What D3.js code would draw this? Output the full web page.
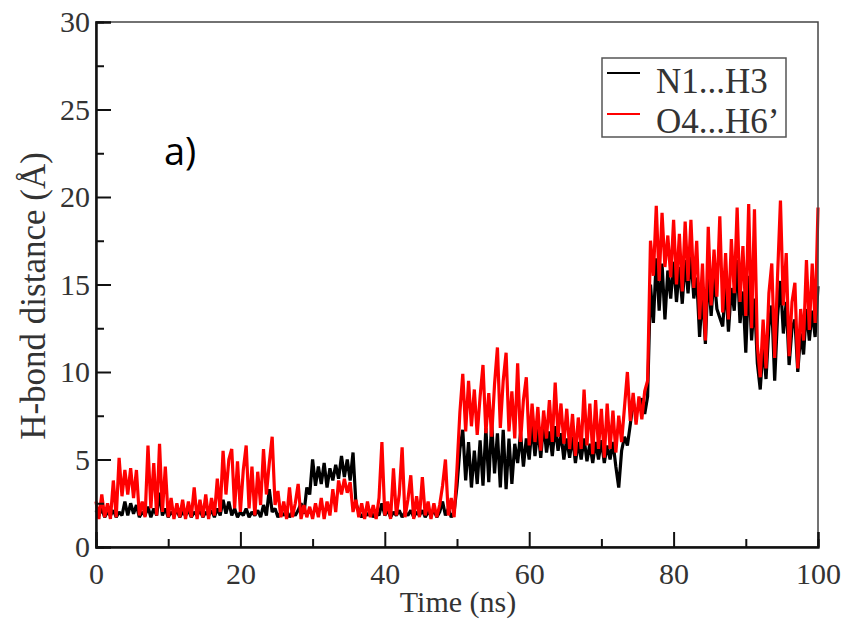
<!DOCTYPE html>
<html>
<head>
<meta charset="utf-8">
<script src="https://cdn.jsdelivr.net/npm/d3@7"></script>
<style>
  body { margin: 0; background: #fff; }
</style>
</head>
<body>
<div id="chart"></div>
<script>
// sampling step of the trajectory (ns)
const timeStep = 0.4;

// N1...H3 distance (Å), one row = 10 ns
const n1h3 = [
  2.1, 1.8, 2.2, 1.7, 2.0, 1.8, 2.1, 1.7, 2.0, 1.8, 2.6, 1.8, 2.5, 1.9, 2.4, 1.7, 2.0, 1.8, 2.3, 1.7, 2.2, 1.8, 3.1, 1.8, 2.2,
  1.7, 2.0, 1.8, 2.1, 1.7, 2.0, 1.8, 2.1, 1.7, 2.0, 1.8, 2.1, 1.7, 2.0, 1.8, 2.1, 1.7, 2.2, 1.8, 2.7, 1.9, 2.6, 1.8, 2.2, 1.7,
  2.0, 1.8, 2.2, 1.7, 2.0, 1.8, 2.1, 1.7, 2.4, 1.8, 3.3, 2.0, 2.2, 1.7, 2.0, 1.8, 2.1, 1.7, 2.0, 1.8, 2.1, 2.5, 1.9, 3.4, 3.0,
  5.0, 3.5, 4.6, 3.6, 4.8, 3.4, 4.5, 3.8, 4.7, 3.9, 5.2, 4.0, 5.0, 3.8, 5.4, 2.5, 2.0, 1.7, 2.0, 1.8, 2.1, 1.7, 2.0, 1.8, 2.5,
  1.8, 2.1, 1.7, 2.0, 1.8, 2.1, 1.7, 2.0, 1.8, 2.1, 1.7, 2.0, 1.8, 2.1, 1.7, 2.0, 1.8, 2.1, 1.7, 2.0, 2.6, 1.8, 2.2, 1.7, 2.0,
  3.5, 5.6, 6.7, 3.8, 6.0, 3.4, 5.5, 3.6, 6.1, 3.5, 6.8, 3.7, 7.1, 4.2, 6.5, 3.4, 6.7, 3.3, 6.2, 3.6, 5.9, 4.8, 6.5, 4.6, 6.2,
  5.0, 7.0, 5.2, 6.8, 5.1, 7.1, 5.4, 6.6, 5.2, 6.9, 5.5, 6.5, 5.0, 6.2, 5.1, 6.3, 4.8, 6.0, 5.0, 6.2, 4.9, 5.9, 4.8, 6.0, 5.0,
  6.1, 4.8, 5.8, 5.0, 6.0, 4.6, 3.4, 5.5, 6.3, 5.8, 7.0, 8.3, 7.6, 8.0, 8.5, 7.6, 8.6, 15.0, 12.8, 16.5, 13.5, 16.2, 13.0, 15.8, 14.2,
  16.3, 14.0, 16.0, 13.9, 16.4, 14.5, 16.6, 14.2, 15.4, 12.0, 14.6, 11.6, 15.8, 13.2, 15.5, 13.6, 13.1, 12.6, 15.0, 12.3, 14.8, 13.5, 16.4, 12.8, 14.6,
  11.1, 15.5, 11.8, 14.2, 10.5, 9.0, 11.5, 9.6, 12.6, 13.8, 9.5, 13.2, 15.2, 12.2, 14.0, 10.4, 12.5, 13.0, 10.0, 12.2, 11.0, 13.6, 11.8, 13.5, 12.0,
  14.9
];

// O4...H6' distance (Å), one row = 10 ns
const o4h6 = [
  2.6, 1.6, 3.0, 1.7, 2.5, 1.6, 3.8, 1.7, 5.1, 2.9, 4.4, 3.0, 4.5, 2.8, 4.4, 1.8, 2.6, 1.7, 5.8, 2.2, 4.8, 1.8, 5.9, 2.0, 4.6,
  1.7, 2.8, 1.6, 2.5, 1.7, 2.7, 1.6, 2.6, 1.7, 3.4, 1.6, 2.7, 1.7, 3.0, 1.6, 2.8, 1.8, 3.9, 2.0, 5.5, 3.0, 5.0, 5.6, 2.2, 4.9,
  2.0, 4.4, 5.8, 2.2, 4.6, 1.8, 4.3, 2.4, 5.6, 3.0, 4.8, 6.3, 2.4, 3.2, 1.7, 2.6, 1.6, 3.4, 1.7, 2.5, 3.6, 1.6, 2.4, 1.7, 2.3,
  1.6, 2.5, 1.7, 2.8, 1.6, 2.6, 1.8, 3.3, 2.0, 3.8, 3.0, 3.9, 3.1, 3.7, 2.0, 2.7, 1.7, 2.5, 1.6, 2.6, 1.7, 2.4, 1.6, 2.8, 6.0,
  1.8, 2.6, 1.6, 4.5, 1.8, 3.0, 5.7, 1.7, 2.7, 4.1, 1.6, 2.9, 1.7, 4.0, 1.8, 2.6, 1.6, 2.5, 1.7, 2.4, 3.5, 5.0, 1.8, 2.8, 1.7,
  4.5, 7.7, 9.9, 6.6, 9.5, 6.9, 9.0, 6.4, 8.6, 10.4, 6.5, 8.8, 6.3, 9.3, 11.4, 6.8, 9.5, 11.1, 6.6, 8.9, 6.2, 10.5, 6.0, 8.4, 9.7,
  5.8, 8.2, 6.0, 8.0, 5.5, 7.8, 6.2, 8.4, 6.0, 9.4, 6.3, 8.2, 5.9, 7.9, 5.6, 7.6, 5.2, 7.4, 5.6, 9.0, 5.8, 8.2, 5.3, 8.4, 5.6,
  7.9, 5.1, 8.2, 5.6, 7.8, 5.4, 7.5, 6.0, 8.0, 10.0, 7.2, 8.8, 7.0, 8.6, 7.3, 8.9, 9.5, 17.5, 15.5, 19.5, 15.2, 19.1, 16.0, 17.8, 15.4,
  18.7, 15.0, 17.9, 14.6, 18.6, 15.2, 18.7, 14.8, 17.5, 13.0, 16.2, 11.8, 18.3, 13.8, 17.0, 14.3, 18.9, 13.4, 16.8, 13.0, 17.6, 14.5, 19.4, 14.0, 17.2,
  13.2, 19.6, 12.5, 19.3, 11.5, 9.7, 13.0, 10.2, 14.5, 16.2, 10.8, 15.5, 19.8, 13.8, 16.8, 10.9, 14.0, 15.1, 10.2, 13.6, 11.8, 16.4, 12.4, 16.2, 12.8,
  19.4
];

const seriesNames = ["N1...H3", "O4...H6\u2019"];
const seriesColors = ["#000000", "#ff0000"];
const xTicks = [0, 20, 40, 60, 80, 100];
const yTicks = [0, 5, 10, 15, 20, 25, 30];

const width = 851, height = 620;
const margin = { top: 22, right: 33, bottom: 73, left: 96 };

const svg = d3.select("#chart")
  .append("svg")
  .attr("width", width)
  .attr("height", height);

const x = d3.scaleLinear()
  .domain([0, 100])
  .range([margin.left, width - margin.right]);

const y = d3.scaleLinear()
  .domain([0, 30])
  .range([height - margin.bottom, margin.top]);

// data lines, black first so red sits on top
const line = d3.line()
  .x((d, i) => x(i * timeStep))
  .y(d => y(d));

[n1h3, o4h6].forEach((values, k) => {
  svg.append("path")
    .datum(values)
    .attr("fill", "none")
    .attr("stroke", seriesColors[k])
    .attr("stroke-width", 3.2)
    .attr("stroke-linejoin", "bevel")
    .attr("d", line);
});

// frame
svg.append("rect")
  .attr("x", x(0))
  .attr("y", y(30))
  .attr("width", x(100) - x(0))
  .attr("height", y(0) - y(30))
  .attr("fill", "none")
  .attr("stroke", "#444")
  .attr("stroke-width", 1.5);

// axes with inward ticks (major + minor)
const tickFont = "'Liberation Serif', 'Times New Roman', serif";

const xAxis = svg.append("g")
  .attr("transform", `translate(0,${y(0)})`)
  .call(d3.axisBottom(x).tickValues(xTicks).tickSize(-15).tickPadding(16).tickFormat(d3.format("d")));
const xMinor = svg.append("g")
  .attr("transform", `translate(0,${y(0)})`)
  .call(d3.axisBottom(x).tickValues(d3.range(10, 100, 20)).tickSize(-8).tickFormat(""));

const yAxis = svg.append("g")
  .attr("transform", `translate(${x(0)},0)`)
  .call(d3.axisLeft(y).tickValues(yTicks).tickSize(-15).tickPadding(6).tickFormat(d3.format("d")));
const yMinor = svg.append("g")
  .attr("transform", `translate(${x(0)},0)`)
  .call(d3.axisLeft(y).tickValues(d3.range(2.5, 30, 5)).tickSize(-8).tickFormat(""));

[xAxis, xMinor, yAxis, yMinor].forEach(g => {
  g.select(".domain").attr("stroke", "#111").attr("stroke-width", 2);
  g.selectAll(".tick line").attr("stroke", "#111").attr("stroke-width", 2);
  g.selectAll(".tick text")
    .attr("font-family", tickFont)
    .attr("font-size", 30)
    .attr("fill", "#333");
});

// axis titles
svg.append("text")
  .attr("text-anchor", "middle")
  .attr("x", 458)
  .attr("y", 612)
  .attr("font-family", tickFont)
  .attr("font-size", 30)
  .attr("fill", "#333")
  .text("Time (ns)");

svg.append("text")
  .attr("text-anchor", "middle")
  .attr("transform", `translate(45, 296) rotate(-90)`)
  .attr("font-family", tickFont)
  .attr("font-size", 35)
  .attr("fill", "#333")
  .text("H-bond distance (\u00c5)");

// panel letter
svg.append("text")
  .attr("x", 164)
  .attr("y", 165)
  .attr("font-family", "'Open Sans', sans-serif")
  .attr("font-size", 38)
  .attr("fill", "#000")
  .text("a)");

// legend
const legend = svg.append("g");
legend.append("rect")
  .attr("x", 602)
  .attr("y", 58)
  .attr("width", 184)
  .attr("height", 79)
  .attr("fill", "#fff")
  .attr("stroke", "#555")
  .attr("stroke-width", 1.5);

seriesNames.forEach((name, i) => {
  legend.append("line")
    .attr("x1", 607)
    .attr("x2", 640)
    .attr("y1", 73 + i * 41)
    .attr("y2", 73 + i * 41)
    .attr("stroke", seriesColors[i])
    .attr("stroke-width", 2);

  legend.append("text")
    .attr("x", 656)
    .attr("y", 93 + i * 40)
    .attr("font-family", tickFont)
    .attr("font-size", 35)
    .attr("fill", "#333")
    .text(name);
});
</script>
</body>
</html>
